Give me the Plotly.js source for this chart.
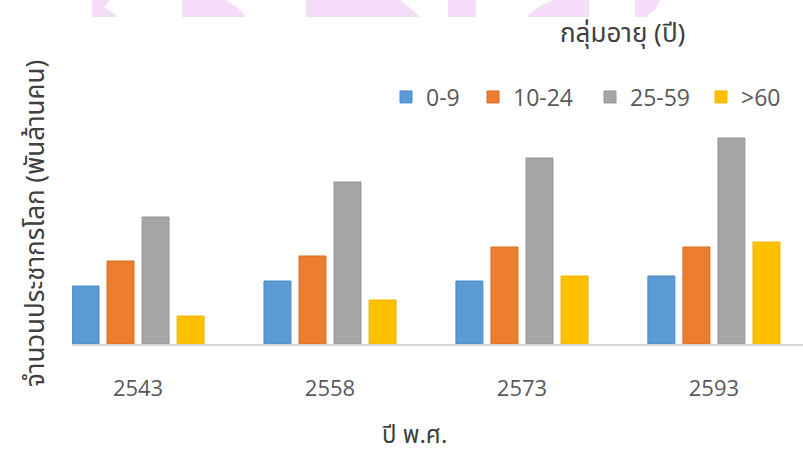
<!DOCTYPE html>
<html><head><meta charset="utf-8">
<script src="https://cdn.plot.ly/plotly-3.0.1.min.js"></script>
<style>html,body{margin:0;padding:0;background:#fff}</style>
</head><body><div id="chart" style="width:803px;height:453px"></div>
<script>
// Data (billions of people)
const years = ['2543', '2558', '2573', '2593'];
const groupNames = ['0-9', '10-24', '25-59', '>60'];
const age0_9 = [1.16, 1.26, 1.26, 1.36];
const age10_24 = [1.66, 1.76, 1.94, 1.94];
const age25_59 = [2.54, 3.24, 3.72, 4.12];
const age60plus = [0.56, 0.88, 1.36, 2.04];

const seriesValues = [age0_9, age10_24, age25_59, age60plus];
const fills = ['#5B9BD5', '#ED7D31', '#A5A5A5', '#FFC000'];
const edges = ['#4A8AC6', '#DC6C22', '#979797', '#F0B400'];
const legendWidths = [42, 72, 66, 50];

const W = 803, H = 453;
const M = {l: 72, r: 0, t: 100, b: 109, autoexpand: false};
const PW = W - M.l - M.r, PH = H - M.t - M.b;
const px = x => (x - M.l) / PW;
const py = y => (H - M.b - y) / PH;

const traces = groupNames.map((name, i) => ({
  type: 'bar',
  name: name,
  x: years,
  y: seriesValues[i],
  marker: {color: fills[i], line: {color: edges[i], width: 1}},
  legendwidth: legendWidths[i],
  hoverinfo: 'x+y+name'
}));

const thaiFont = '"Noto Sans Thai", "Noto Sans", "DejaVu Sans", sans-serif';
const txtColor = '#595959';

function poly(pts) {
  return {
    type: 'path', xref: 'paper', yref: 'paper', layer: 'below',
    path: 'M' + pts.map(p => px(p[0]).toFixed(4) + ',' + py(p[1]).toFixed(4)).join('L') + 'Z',
    fillcolor: '#F5DDFA', line: {width: 0}
  };
}

const decoShapes = [
  poly([[92,0],[110,0],[104,7],[118,17],[92,17]]),
  poly([[182,0],[226,0],[238,8],[246,17],[182,17]]),
  poly([[306,0],[400,0],[410,8],[420,17],[306,17]]),
  poly([[448,0],[476,0],[476,17],[448,17]]),
  poly([[553,0],[589,0],[589,17],[527,17],[538,7]]),
  poly([[635,0],[660,0],[656,9],[646,17],[635,17]])
];

const layout = {
  width: W, height: H,
  margin: M,
  paper_bgcolor: '#ffffff',
  plot_bgcolor: '#ffffff',
  barmode: 'group',
  bargap: 0.27,
  bargroupgap: 0.23,
  font: {family: '"Open Sans", "Noto Sans", sans-serif', color: txtColor},
  xaxis: {
    type: 'category',
    range: [-0.344, 3.464],
    showline: true, linecolor: '#D9D9D9', linewidth: 2,
    ticks: '', showgrid: false, zeroline: false,
    tickfont: {size: 22, color: txtColor, family: '"Open Sans", "Noto Sans", sans-serif'},
    ticklabelstandoff: 24,
    automargin: false,
    fixedrange: true
  },
  yaxis: {
    range: [0, 4.88],
    visible: false,
    showgrid: false, zeroline: false,
    automargin: false,
    fixedrange: true
  },
  showlegend: true,
  legend: {
    orientation: 'h',
    xref: 'container', yref: 'container',
    x: 386 / W, xanchor: 'left',
    y: 1 - 97 / H, yanchor: 'middle',
    bgcolor: 'rgba(0,0,0,0)',
    font: {size: 23, color: txtColor, family: '"Open Sans", "Noto Sans", sans-serif'},
    traceorder: 'normal'
  },
  annotations: [
    {text: 'กลุ่มอายุ (ปี)', xref: 'paper', yref: 'paper', x: px(622), y: py(34),
     xanchor: 'center', yanchor: 'middle', showarrow: false,
     font: {size: 26, color: '#404040', family: thaiFont}},
    {text: 'ปี พ.ศ.', xref: 'paper', yref: 'paper', x: px(414), y: py(436),
     xanchor: 'center', yanchor: 'middle', showarrow: false,
     font: {size: 24, color: '#404040', family: thaiFont}},
    {text: 'จำนวนประชากรโลก (พันล้านคน)', xref: 'paper', yref: 'paper', x: px(36), y: py(224),
     xanchor: 'center', yanchor: 'middle', showarrow: false, textangle: -90,
     font: {size: 26, color: '#404040', family: thaiFont}}
  ],
  shapes: decoShapes
};

Plotly.newPlot('chart', traces, layout, {displayModeBar: false, staticPlot: true});
</script>
</body></html>
